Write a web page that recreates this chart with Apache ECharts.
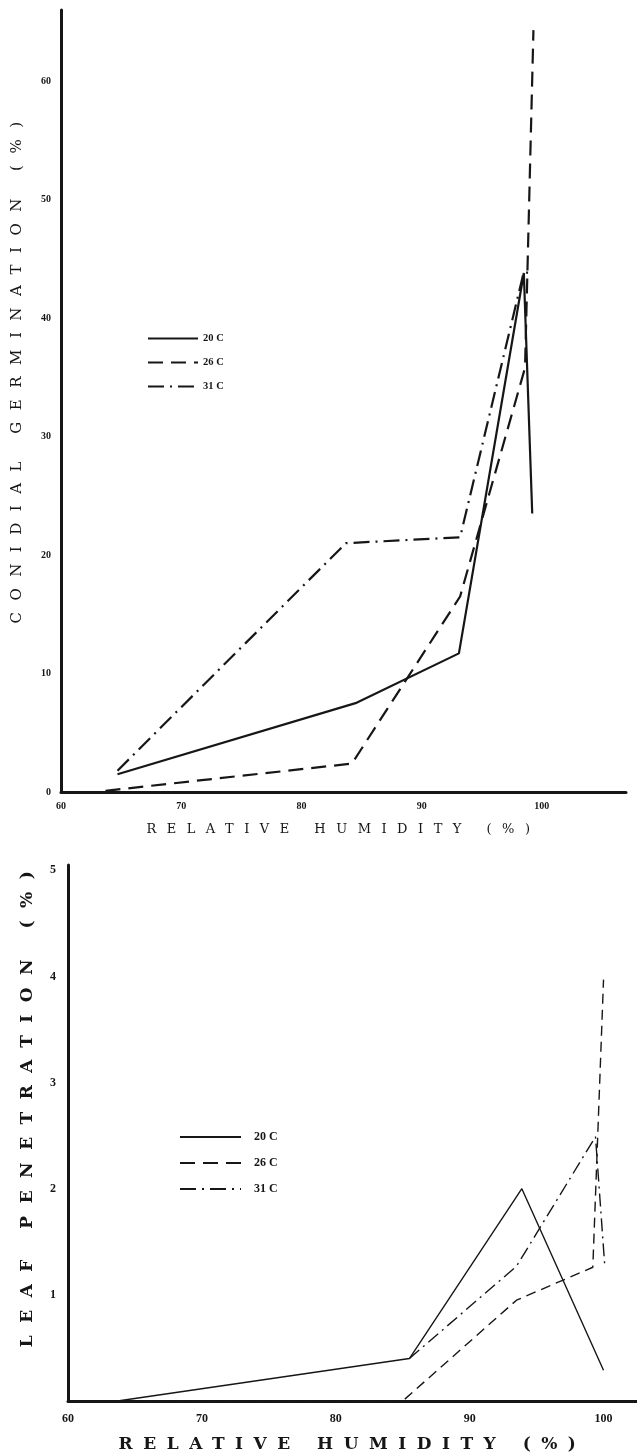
<!DOCTYPE html>
<html><head><meta charset="utf-8">
<script src="https://cdn.jsdelivr.net/npm/echarts@6/dist/echarts.min.js"></script>
<style>html,body{margin:0;padding:0;background:#fff}#c{width:637px;height:1456px}</style>
</head><body><div id="c"></div>
<script>
// ---------- data ----------
const seriesNames = ['20 C', '26 C', '31 C'];
const xTickLabels = [60, 70, 80, 90, 100];
const topYTickLabels = [0, 10, 20, 30, 40, 50, 60];
const bottomYTickLabels = [1, 2, 3, 4, 5];

// Conidial germination (%) vs relative humidity (%)
const germRH20 = [64.7, 84.5, 93.1, 98.5, 99.2];
const germPct20 = [1.5, 7.5, 11.7, 43.8, 23.5];
const germRH26 = [63.7, 84.2, 93.2, 98.6, 99.3];
const germPct26 = [0.1, 2.4, 16.5, 35.8, 64.3];
const germRH31 = [64.7, 83.7, 93.2, 98.5, 99.3];
const germPct31 = [1.8, 21.0, 21.5, 43.9, 43.7];

// Leaf penetration (%) vs relative humidity (%)
const penRH20 = [63.7, 85.5, 93.9, 100.0];
const penPct20 = [0, 0.40, 2.0, 0.29];
const penRH26 = [63.7, 85.0, 93.5, 99.2, 100.0];
const penPct26 = [0, 0, 0.95, 1.26, 3.97];
const penRH31 = [85.5, 93.5, 99.4, 100.1];
const penPct31 = [0.40, 1.27, 2.49, 1.26];

const xTitle = 'RELATIVE HUMIDITY (%)';
const topYTitle = 'CONIDIAL GERMINATION (%)';
const bottomYTitle = 'LEAF PENETRATION (%)';

// ---------- letter-spaced titles (canvas letterSpacing, only for the titles) ----------
const spacing = {};
spacing[xTitle] = 10.5;
spacing[topYTitle] = 11.5;
spacing[bottomYTitle] = 12.5;
const origFill = CanvasRenderingContext2D.prototype.fillText;
CanvasRenderingContext2D.prototype.fillText = function (t) {
  const s = spacing[t];
  if (s !== undefined && 'letterSpacing' in this) {
    this.save();
    this.letterSpacing = s + 'px';
    const r = origFill.apply(this, arguments);
    this.restore();
    this.letterSpacing = '0px';
    const f = this.font; this.font = f;
    return r;
  }
  if ('letterSpacing' in this && this.letterSpacing !== '0px') this.letterSpacing = '0px';
  return origFill.apply(this, arguments);
};

const pairs = (xs, ys) => xs.map((x, i) => [x, ys[i]]);
const INK = '#161616';
const SERIF = '"Liberation Serif", "DejaVu Serif", serif';
const TITLE = '"DejaVu Serif", serif';

const topStyles = [
  { width: 2.2, type: 'solid' },
  { width: 2.2, type: [15, 8] },
  { width: 2.2, type: [16, 6, 2, 6] }
];
const botStyles = [
  { width: 1.4, type: 'solid' },
  { width: 1.4, type: [10, 6] },
  { width: 1.4, type: [13, 5, 2, 5] }
];

const topData = [pairs(germRH20, germPct20), pairs(germRH26, germPct26), pairs(germRH31, germPct31)];
const botData = [pairs(penRH20, penPct20), pairs(penRH26, penPct26), pairs(penRH31, penPct31)];

const series = [];
seriesNames.forEach((n, i) => {
  series.push({ name: n, type: 'line', xAxisIndex: 0, yAxisIndex: 0, data: topData[i],
    symbol: 'none', color: INK, lineStyle: Object.assign({ color: INK }, topStyles[i]), z: 3 });
});
seriesNames.forEach((n, i) => {
  series.push({ name: n, type: 'line', xAxisIndex: 1, yAxisIndex: 1, data: botData[i],
    symbol: 'none', color: INK, lineStyle: Object.assign({ color: INK }, botStyles[i]), z: 3 });
});

const axisLine = { show: true, lineStyle: { color: INK, width: 3 } };
const fmt = (list) => (v) => (list.indexOf(Math.round(v * 1000) / 1000) >= 0 ? String(v) : '');
const hiddenSymbol = { color: 'rgba(0,0,0,0)', borderWidth: 0, opacity: 0 };

const option = {
  animation: false,
  backgroundColor: '#fff',
  grid: [
    { left: 61, top: 10, width: 565, height: 782, containLabel: false, outerBoundsMode: 'none' },
    { left: 68, top: 865, width: 569, height: 536, containLabel: false, outerBoundsMode: 'none' }
  ],
  xAxis: [
    { type: 'value', gridIndex: 0, min: 60, max: 107, interval: 10,
      axisLine: axisLine, axisTick: { show: false }, splitLine: { show: false },
      axisLabel: { formatter: fmt(xTickLabels), margin: 9, color: INK, fontFamily: SERIF, fontWeight: 'bold', fontSize: 10 },
      name: xTitle, nameLocation: 'middle', nameGap: 31,
      nameTextStyle: { color: INK, fontFamily: TITLE, fontSize: 13 } },
    { type: 'value', gridIndex: 1, min: 60, max: 102.5, interval: 10,
      axisLine: axisLine, axisTick: { show: false }, splitLine: { show: false },
      axisLabel: { formatter: fmt(xTickLabels), margin: 12, color: INK, fontFamily: SERIF, fontWeight: 'bold', fontSize: 12 },
      name: xTitle, nameLocation: 'middle', nameGap: 35,
      nameTextStyle: { color: INK, fontFamily: TITLE, fontSize: 17, fontWeight: 'bold' } }
  ],
  yAxis: [
    { type: 'value', gridIndex: 0, min: 0, max: 66, interval: 10,
      axisLine: axisLine, axisTick: { show: false }, splitLine: { show: false },
      axisLabel: { formatter: fmt(topYTickLabels), margin: 10, color: INK, fontFamily: SERIF, fontWeight: 'bold', fontSize: 10 },
      name: topYTitle, nameLocation: 'middle', nameGap: 36,
      nameTextStyle: { color: INK, fontFamily: TITLE, fontSize: 15, padding: [0, 0, 0, 68] } },
    { type: 'value', gridIndex: 1, min: 0, max: 5.05, interval: 1,
      axisLine: axisLine, axisTick: { show: false }, splitLine: { show: false },
      axisLabel: { formatter: fmt(bottomYTickLabels), margin: 12, color: INK, fontFamily: SERIF, fontWeight: 'bold', fontSize: 12 },
      name: bottomYTitle, nameLocation: 'middle', nameGap: 32,
      nameTextStyle: { color: INK, fontFamily: TITLE, fontSize: 17, fontWeight: 'bold', padding: [0, 0, 0, 60] } }
  ],
  legend: [
    { data: seriesNames, orient: 'vertical', left: 142, top: 328, itemWidth: 50, itemHeight: 10, itemGap: 13,
      selectedMode: false, itemStyle: hiddenSymbol,
      textStyle: { color: INK, fontFamily: SERIF, fontWeight: 'bold', fontSize: 10.5 } },
    { data: seriesNames, orient: 'vertical', left: 174, top: 1126, itemWidth: 61, itemHeight: 12, itemGap: 14,
      selectedMode: false, itemStyle: hiddenSymbol,
      textStyle: { color: INK, fontFamily: SERIF, fontWeight: 'bold', fontSize: 12, padding: [0, 0, 0, 8] } }
  ],
  series: series
};

const chart = echarts.init(document.getElementById('c'), null, { renderer: 'canvas' });
chart.setOption(option);
</script>
</body></html>
